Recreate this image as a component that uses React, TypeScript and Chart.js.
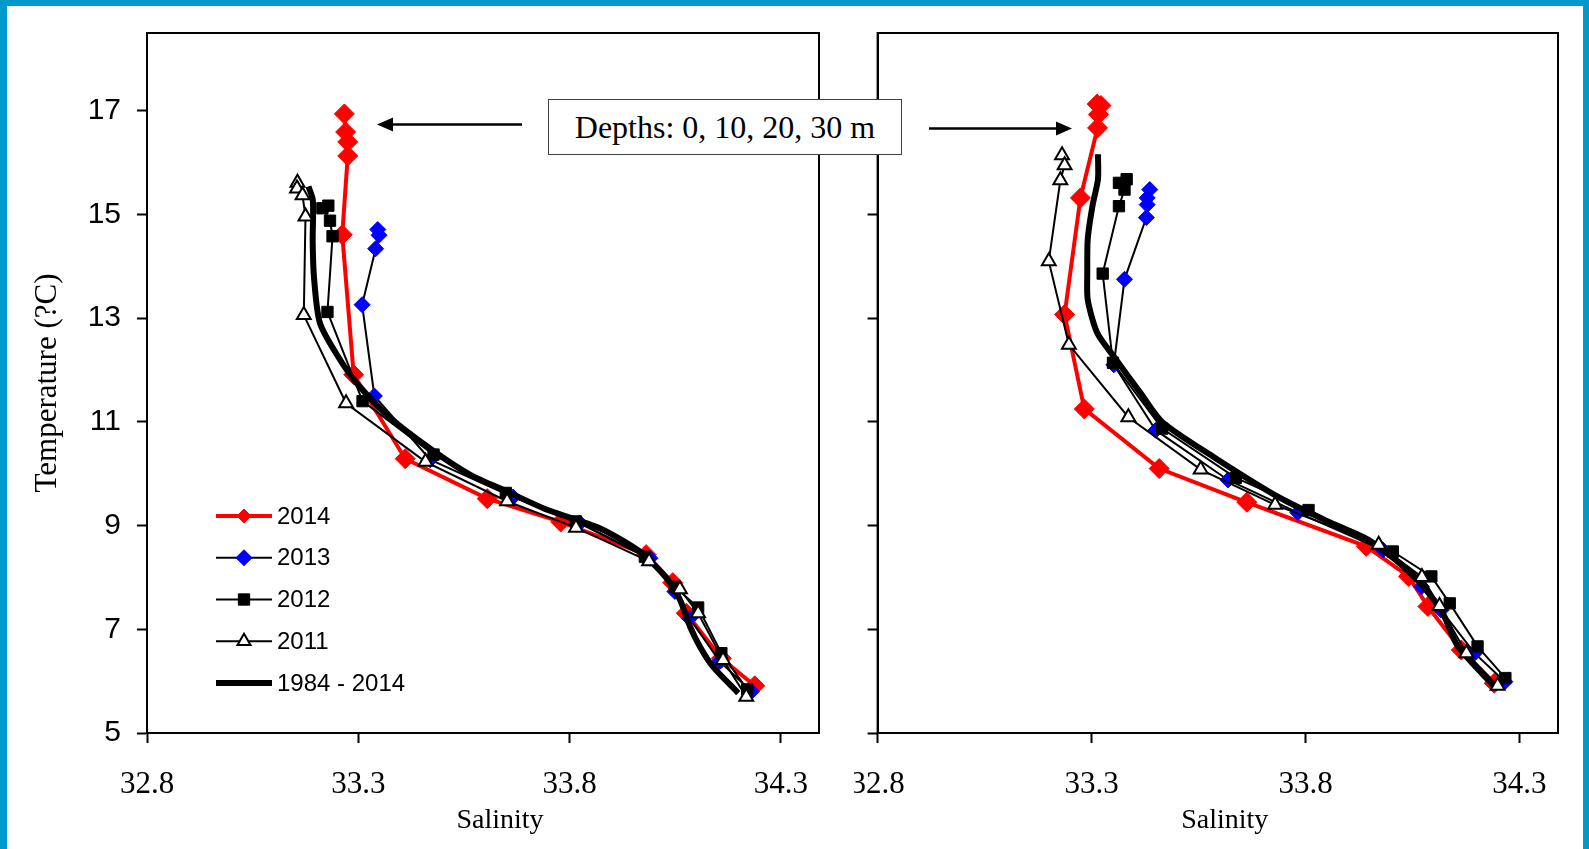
import React, { useEffect, useRef } from 'react';
import { Chart, registerables } from 'chart.js';
import { drawPoint } from 'chart.js/helpers';

Chart.register(...registerables);

// ---------- axis ticks & names ----------
const X_TICKS = [32.8, 33.3, 33.8, 34.3];
const Y_TICKS = [5, 7, 9, 11, 13, 15, 17];
const SERIES_NAMES = ['2014', '2013', '2012', '2011', '1984 - 2014'];
const X_TITLE = 'Salinity';
const Y_TITLE = 'Temperature (?C)';
const NOTE_TEXT = 'Depths: 0, 10, 20, 30 m';

// ---------- left panel ----------
const L_2014_SAL = [33.267, 33.270, 33.275, 33.275, 33.262, 33.289, 33.411, 33.605, 33.779, 33.981, 34.044, 34.076, 34.159, 34.238];
const L_2014_TEMP = [16.94, 16.59, 16.40, 16.13, 14.61, 11.91, 10.29, 9.52, 9.07, 8.44, 7.90, 7.31, 6.44, 5.91];

const L_2013_SAL = [33.346, 33.349, 33.341, 33.309, 33.338, 33.470, 33.666, 33.824, 33.990, 34.049, 34.084, 34.155, 34.230];
const L_2013_TEMP = [14.71, 14.60, 14.34, 13.26, 11.50, 10.27, 9.55, 9.05, 8.37, 7.73, 7.21, 6.38, 5.80];

const L_2012_SAL = [33.229, 33.215, 33.233, 33.239, 33.227, 33.310, 33.478, 33.649, 33.815, 33.978, 34.049, 34.104, 34.159, 34.220];
const L_2012_TEMP = [15.17, 15.12, 14.88, 14.58, 13.12, 11.40, 10.37, 9.63, 9.08, 8.40, 7.82, 7.42, 6.54, 5.84];

const L_2011_SAL = [33.156, 33.155, 33.168, 33.175, 33.171, 33.271, 33.459, 33.652, 33.815, 33.988, 34.061, 34.104, 34.163, 34.218];
const L_2011_TEMP = [15.61, 15.50, 15.37, 14.96, 13.06, 11.36, 10.23, 9.47, 8.96, 8.31, 7.77, 7.31, 6.41, 5.70];

const L_CLIM_SAL = [33.182, 33.192, 33.193, 33.192, 33.195, 33.209, 33.252, 33.296, 33.375, 33.483, 33.565, 33.651, 33.745, 33.871, 33.966, 34.029, 34.061, 34.085, 34.108, 34.139, 34.199];
const L_CLIM_TEMP = [15.54, 15.30, 15.00, 14.50, 13.80, 12.91, 12.26, 11.75, 11.08, 10.41, 9.98, 9.66, 9.31, 8.95, 8.50, 7.99, 7.57, 7.05, 6.67, 6.28, 5.77];

// ---------- right panel ----------
const R_2014_SAL = [33.313, 33.322, 33.316, 33.314, 33.274, 33.237, 33.283, 33.458, 33.663, 33.942, 34.041, 34.086, 34.164, 34.241];
const R_2014_TEMP = [17.13, 17.10, 16.93, 16.67, 15.32, 13.07, 11.25, 10.10, 9.45, 8.60, 8.02, 7.44, 6.60, 5.96];

const R_2013_SAL = [33.436, 33.430, 33.430, 33.428, 33.377, 33.352, 33.450, 33.619, 33.782, 33.981, 34.071, 34.117, 34.195, 34.266];
const R_2013_TEMP = [15.48, 15.32, 15.19, 14.94, 13.75, 12.10, 10.84, 9.88, 9.25, 8.53, 7.82, 7.37, 6.54, 5.99];

const R_2012_SAL = [33.382, 33.364, 33.377, 33.364, 33.326, 33.350, 33.465, 33.637, 33.807, 34.004, 34.094, 34.137, 34.202, 34.267];
const R_2012_TEMP = [15.68, 15.61, 15.48, 15.16, 13.86, 12.14, 10.87, 9.92, 9.30, 8.50, 8.02, 7.50, 6.67, 6.06];

const R_2011_SAL = [33.231, 33.237, 33.227, 33.200, 33.247, 33.386, 33.555, 33.729, 33.971, 34.072, 34.113, 34.176, 34.249];
const R_2011_TEMP = [16.14, 15.95, 15.66, 14.10, 12.49, 11.09, 10.08, 9.40, 8.63, 8.01, 7.45, 6.54, 5.91];

const R_CLIM_SAL = [33.315, 33.315, 33.302, 33.291, 33.290, 33.291, 33.313, 33.352, 33.415, 33.465, 33.586, 33.735, 33.860, 33.946, 34.047, 34.117, 34.156, 34.242];
const R_CLIM_TEMP = [16.16, 15.68, 15.16, 14.52, 13.90, 13.36, 12.72, 12.26, 11.55, 11.00, 10.32, 9.56, 9.05, 8.73, 8.08, 7.37, 6.67, 5.89];

const X_MIN = 32.8;
const X_MAX = 34.39;
const Y_MIN = 5;
const Y_MAX = 18.5;

const pts = (xs: number[], ys: number[]) => xs.map((x, i) => ({ x, y: ys[i] }));

function makeDatasets(s14, t14, s13, t13, s12, t12, s11, t11, sc, tc) {
  return [
    {
      label: SERIES_NAMES[0], data: pts(s14, t14), showLine: true, order: 4,
      borderColor: '#ff0000', borderWidth: 4,
      pointStyle: 'rectRot', pointRadius: 10, pointBackgroundColor: '#ff0000', pointBorderColor: '#ff0000', pointBorderWidth: 1,
      legendRadius: 7,
    },
    {
      label: SERIES_NAMES[1], data: pts(s13, t13), showLine: true, order: 3,
      borderColor: '#000000', borderWidth: 2,
      pointStyle: 'rectRot', pointRadius: 8, pointBackgroundColor: '#0000ff', pointBorderColor: '#0000ff', pointBorderWidth: 1,
      legendRadius: 8,
    },
    {
      label: SERIES_NAMES[2], data: pts(s12, t12), showLine: true, order: 2,
      borderColor: '#000000', borderWidth: 2,
      pointStyle: 'rect', pointRadius: 8, pointBackgroundColor: '#000000', pointBorderColor: '#000000', pointBorderWidth: 1,
      legendRadius: 8,
    },
    {
      label: SERIES_NAMES[3], data: pts(s11, t11), showLine: true, order: 0,
      borderColor: '#000000', borderWidth: 2,
      pointStyle: 'triangle', pointRadius: 8, pointBackgroundColor: '#ffffff', pointBorderColor: '#000000', pointBorderWidth: 2,
      legendRadius: 7.5,
    },
    {
      label: SERIES_NAMES[4], data: pts(sc, tc), showLine: true, order: 1,
      borderColor: '#000000', borderWidth: 6, tension: 0.25,
      pointRadius: 0, legendRadius: 0,
    },
  ];
}

const framePlugin = {
  id: 'frame',
  afterDraw(chart) {
    const { ctx, chartArea: a } = chart;
    ctx.save();
    ctx.strokeStyle = '#000';
    ctx.lineWidth = 2;
    ctx.strokeRect(a.left, a.top, a.right - a.left, a.bottom - a.top);
    ctx.restore();
  },
};

// x-axis title, centred under the axis with a small shift as in the original
function makeXTitlePlugin(shift: number) {
  return {
    id: 'xTitle',
    afterDraw(chart) {
      const { ctx, chartArea: a } = chart;
      ctx.save();
      ctx.fillStyle = '#000';
      ctx.font = '28px "Liberation Serif", "Times New Roman", serif';
      ctx.textAlign = 'center';
      ctx.textBaseline = 'middle';
      ctx.fillText(X_TITLE, (a.left + a.right) / 2 + shift, 821);
      ctx.restore();
    },
  };
}

const legendPlugin = {
  id: 'insideLegend',
  afterDraw(chart) {
    const { ctx, chartArea: a } = chart;
    const x0 = a.left + 69;
    const x1 = a.left + 125;
    const xm = (x0 + x1) / 2;
    chart.data.datasets.forEach((ds, i) => {
      const y = a.top + 483 + i * 41.75;
      ctx.save();
      ctx.strokeStyle = ds.borderColor;
      ctx.lineWidth = ds.borderWidth;
      ctx.beginPath();
      ctx.moveTo(x0, y);
      ctx.lineTo(x1, y);
      ctx.stroke();
      if (ds.legendRadius > 0) {
        ctx.fillStyle = ds.pointBackgroundColor;
        ctx.strokeStyle = ds.pointBorderColor;
        ctx.lineWidth = ds.pointBorderWidth;
        drawPoint(ctx, { pointStyle: ds.pointStyle, radius: ds.legendRadius, rotation: 0, borderWidth: ds.pointBorderWidth }, xm, y);
      }
      ctx.fillStyle = '#000';
      ctx.font = '24px "Liberation Sans", Arial, sans-serif';
      ctx.textBaseline = 'middle';
      ctx.textAlign = 'left';
      ctx.fillText(ds.label, x1 + 5, y + 1);
      ctx.restore();
    });
  },
};

function makeOptions(isLeft: boolean) {
  return {
    responsive: false,
    maintainAspectRatio: false,
    animation: false,
    events: [],
    layout: { padding: { left: 0, top: 33, right: isLeft ? 33 : 31, bottom: 0 } },
    plugins: { legend: { display: false }, tooltip: { enabled: false } },
    scales: {
      x: {
        type: 'linear',
        min: X_MIN,
        max: X_MAX,
        afterBuildTicks: (s) => { s.ticks = X_TICKS.map((v) => ({ value: v })); },
        afterFit: (s) => { s.height = 116; s.paddingLeft = 0; s.paddingRight = 0; },
        grid: { display: true, drawOnChartArea: false, drawTicks: true, tickLength: 10, tickWidth: 2, tickColor: '#000', color: '#000' },
        border: { display: true, color: '#000', width: 2 },
        ticks: {
          color: '#000', padding: 23, maxRotation: 0, autoSkip: false,
          font: { family: '"Liberation Serif", "Times New Roman", serif', size: 31 },
          callback: (v) => Number(v).toFixed(1),
        },
        title: { display: false },
      },
      y: {
        type: 'linear',
        min: Y_MIN,
        max: Y_MAX,
        afterBuildTicks: (s) => { s.ticks = Y_TICKS.map((v) => ({ value: v })); },
        afterFit: (s) => { s.width = isLeft ? 147 : 23.6; s.paddingTop = 0; s.paddingBottom = 0; },
        grid: { display: true, drawOnChartArea: false, drawTicks: true, tickLength: 10, tickWidth: 2, tickColor: '#000', color: '#000' },
        border: { display: true, color: '#000', width: 2 },
        ticks: {
          display: isLeft, color: '#000', padding: 16,
          font: { family: '"Liberation Sans", Arial, sans-serif', size: 30 },
        },
        title: {
          display: isLeft, text: Y_TITLE, color: '#000',
          font: { family: '"Liberation Serif", "Times New Roman", serif', size: 31 },
          padding: { top: 29.4, bottom: 0 },
        },
      },
    },
  };
}

export default function App() {
  const leftRef = useRef<HTMLCanvasElement>(null);
  const rightRef = useRef<HTMLCanvasElement>(null);

  useEffect(() => {
    const left = new Chart(leftRef.current, {
      type: 'scatter',
      data: { datasets: makeDatasets(L_2014_SAL, L_2014_TEMP, L_2013_SAL, L_2013_TEMP, L_2012_SAL, L_2012_TEMP, L_2011_SAL, L_2011_TEMP, L_CLIM_SAL, L_CLIM_TEMP) },
      options: makeOptions(true),
      plugins: [framePlugin, legendPlugin, makeXTitlePlugin(17)],
    });
    const right = new Chart(rightRef.current, {
      type: 'scatter',
      data: { datasets: makeDatasets(R_2014_SAL, R_2014_TEMP, R_2013_SAL, R_2013_TEMP, R_2012_SAL, R_2012_TEMP, R_2011_SAL, R_2011_TEMP, R_CLIM_SAL, R_CLIM_TEMP) },
      options: makeOptions(false),
      plugins: [framePlugin, makeXTitlePlugin(7)],
    });
    return () => {
      left.destroy();
      right.destroy();
    };
  }, []);

  const blue = '#0099cc';
  return (
    <div style={{ position: 'fixed', left: 0, top: 0, width: 1589, height: 849, background: '#fff', overflow: 'hidden' }}>
      <canvas ref={leftRef} width={852} height={849} style={{ position: 'absolute', left: 0, top: 0, width: 852, height: 849 }} />
      <canvas ref={rightRef} width={735} height={849} style={{ position: 'absolute', left: 854, top: 0, width: 735, height: 849 }} />
      <svg width={1589} height={849} style={{ position: 'absolute', left: 0, top: 0, pointerEvents: 'none' }}>
        <line x1={522} y1={124.5} x2={390} y2={124.5} stroke="#000" strokeWidth={2.5} />
        <polygon points="377,124.5 393,117.5 393,131.5" fill="#000" />
        <line x1={929} y1={128.5} x2={1059} y2={128.5} stroke="#000" strokeWidth={2.5} />
        <polygon points="1072,128.5 1056,121.5 1056,135.5" fill="#000" />
      </svg>
      <div
        style={{
          position: 'absolute', left: 548, top: 99, width: 354, height: 56, boxSizing: 'border-box',
          border: '1px solid #404040', background: '#fff', display: 'flex', alignItems: 'center', justifyContent: 'center',
          fontFamily: '"Liberation Serif", "Times New Roman", serif', fontSize: 32, color: '#000', whiteSpace: 'nowrap',
        }}
      >
        {NOTE_TEXT}
      </div>
      <div style={{ position: 'absolute', left: 0, top: 0, width: 1589, height: 6, background: blue }} />
      <div style={{ position: 'absolute', left: 0, top: 0, width: 7, height: 849, background: blue }} />
      <div style={{ position: 'absolute', left: 1583, top: 0, width: 6, height: 849, background: blue }} />
    </div>
  );
}
